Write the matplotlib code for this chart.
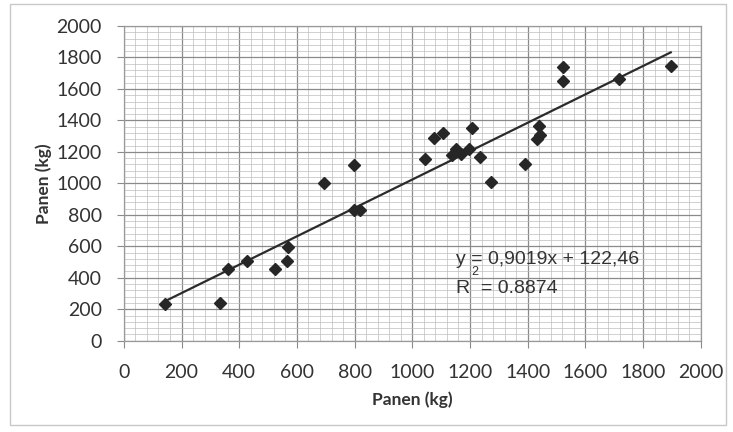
import numpy as np
import matplotlib.pyplot as plt
from matplotlib.ticker import MultipleLocator
from matplotlib.patches import Rectangle

# data
panen_x = [142, 332, 360, 428, 523, 566, 570, 694, 798, 798, 820,
           1043, 1076, 1107, 1136, 1153, 1170, 1197, 1208, 1236, 1274,
           1391, 1433, 1442, 1438, 1523, 1523, 1717, 1896]
panen_y = [234, 237, 453, 508, 453, 508, 593, 1000, 1116, 830, 830,
           1156, 1290, 1318, 1180, 1216, 1184, 1216, 1349, 1169, 1010,
           1123, 1280, 1307, 1364, 1741, 1650, 1661, 1747]
slope = 0.9019
intercept = 122.46
ticks = [0, 200, 400, 600, 800, 1000, 1200, 1400, 1600, 1800, 2000]

fig = plt.figure(figsize=(7.33, 4.32), dpi=100)
fig.patches.append(Rectangle((10 / 733, 7 / 432), 716 / 733, 421 / 432,
                             transform=fig.transFigure, fill=False,
                             edgecolor='#c8c8c8', linewidth=1))
ax = fig.add_axes([0.169, 0.2113, 0.787, 0.7285])

ax.set_xlim(0, 2000)
ax.set_ylim(0, 2000)
ax.xaxis.set_major_locator(MultipleLocator(200))
ax.yaxis.set_major_locator(MultipleLocator(200))
ax.xaxis.set_minor_locator(MultipleLocator(40))
ax.yaxis.set_minor_locator(MultipleLocator(40))
ax.grid(which='major', color='#8a8a8a', linewidth=0.9)
ax.grid(which='minor', color='#bdbdbd', linewidth=0.5)
ax.set_axisbelow(True)
for s in ax.spines.values():
    s.set_color('#9a9a9a')
    s.set_linewidth(0.9)

ax.tick_params(which='major', length=5, color='#8a8a8a', labelsize=14,
               labelcolor='#333333')
ax.tick_params(axis='x', which='major', pad=12)
ax.tick_params(axis='y', which='major', pad=11)
ax.tick_params(which='minor', length=0)
ax.set_xticks(ticks)
ax.set_yticks(ticks)
ax.set_xticklabels([str(t) for t in ticks], family='Lato')
ax.set_yticklabels([str(t) for t in ticks], family='Lato')

xs = np.array([min(panen_x), max(panen_x)])
ax.plot(xs, slope * xs + intercept, color='#2b2b2b', linewidth=1.6)
ax.plot(panen_x, panen_y, linestyle='none', marker='D', markersize=6.5,
        color='#262626')

ax.text(1150, 519, 'y = 0,9019x + 122,46', family='Liberation Sans',
        fontsize=14, color='#333333', va='center')
ax.text(1150, 335, 'R  = 0.8874', family='Liberation Sans',
        fontsize=14, color='#333333', va='center')
ax.text(1205, 436, '2', family='Liberation Sans', fontsize=9,
        color='#333333', va='center')

ax.set_xlabel('Panen (kg)', fontsize=12.5, fontweight='bold', family='Lato',
              color='#333333', labelpad=7)
ax.set_ylabel('Panen (kg)', fontsize=12.5, fontweight='bold', family='Lato',
              color='#333333', labelpad=3)

fig.savefig('out.png', dpi=100, facecolor='white')
